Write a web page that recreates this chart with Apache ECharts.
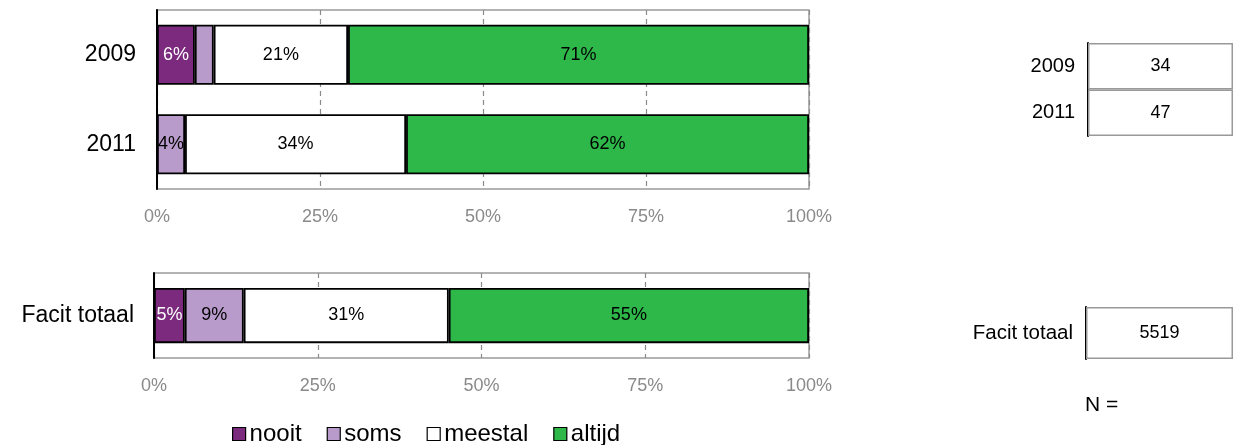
<!DOCTYPE html>
<html>
<head>
<meta charset="utf-8">
<script src="https://cdn.jsdelivr.net/npm/echarts@6/dist/echarts.min.js"></script>
<style>
html,body{margin:0;padding:0;background:#fff;}
#c{width:1233px;height:445px;}
</style>
</head>
<body>
<div id="c"></div>
<script>
// ---- data ----
const yearCats = ['2009', '2011'];
const totalCats = ['Facit totaal'];
const seriesNames = ['nooit', 'soms', 'meestal', 'altijd'];
const nooitYears = [5.8, 0];
const somsYears = [2.9, 4.3];
const meestalYears = [20.6, 33.9];
const altijdYears = [70.7, 61.8];
const nooitTotal = [4.7];
const somsTotal = [9.0];
const meestalTotal = [31.3];
const altijdTotal = [55.0];
const nYears = [34, 47];
const nTotal = [5519];
const xTicks = [0, 25, 50, 75, 100];

const colors = ['#7B2A7E', '#B89BCB', '#FFFFFF', '#2EB84A'];
const labelColors = ['#FFFFFF', '#000000', '#000000', '#000000'];
const FONT = 'Liberation Sans, Arial, Helvetica, sans-serif';

const chart = echarts.init(document.getElementById('c'), null, {renderer: 'canvas'});

function valueAxis(gridIndex) {
  return {
    type: 'value', gridIndex, min: xTicks[0], max: xTicks[xTicks.length - 1],
    interval: xTicks[1] - xTicks[0],
    axisLine: {show: false}, axisTick: {show: false},
    axisLabel: {formatter: '{value}%', color: '#8a8a8a', fontSize: 18, fontFamily: FONT, margin: 19},
    splitLine: {show: true, lineStyle: {color: '#8a8a8a', type: [5, 4], width: 1.2}}
  };
}
function catAxis(gridIndex, data, margin, fontSize) {
  return {
    type: 'category', gridIndex, data, inverse: true,
    axisLine: {show: true, lineStyle: {color: '#000', width: 2}},
    axisTick: {show: false},
    axisLabel: {color: '#000', fontSize, fontFamily: FONT, margin}
  };
}
function barSeries(gridIdx, idx, data, barWidth) {
  return {
    type: 'bar', name: seriesNames[idx], stack: 'g' + gridIdx,
    xAxisIndex: gridIdx, yAxisIndex: gridIdx, data, barWidth,
    itemStyle: {color: colors[idx], borderColor: '#000', borderWidth: 1.8},
    label: {
      show: true, position: 'inside', color: labelColors[idx], fontSize: 18, fontFamily: FONT,
      formatter: p => Math.round(p.value) >= 4 ? Math.round(p.value) + '%' : ''
    },
    emphasis: {disabled: true}, animation: false
  };
}
function cellSeries(gridIdx, nArr) {
  return {
    type: 'bar', xAxisIndex: gridIdx, yAxisIndex: gridIdx,
    data: nArr.map(() => 1), barWidth: '100%',
    itemStyle: {color: '#fff', borderColor: '#999', borderWidth: 1.5},
    label: {show: true, position: 'inside', color: '#000', fontSize: 18, fontFamily: FONT,
      formatter: p => String(nArr[p.dataIndex])},
    emphasis: {disabled: true}, animation: false, silent: true
  };
}

const years = [nooitYears, somsYears, meestalYears, altijdYears];
const totals = [nooitTotal, somsTotal, meestalTotal, altijdTotal];

const option = {
  animation: false,
  textStyle: {fontFamily: FONT},
  grid: [
    {left: 157, top: 10, width: 652, height: 179, show: true, borderColor: '#9a9a9a', borderWidth: 1.5, backgroundColor: 'transparent'},
    {left: 154, top: 273, width: 655, height: 85, show: true, borderColor: '#9a9a9a', borderWidth: 1.5, backgroundColor: 'transparent'},
    {left: 1088, top: 43, width: 146, height: 93},
    {left: 1086, top: 307, width: 148, height: 52}
  ],
  xAxis: [
    valueAxis(0), valueAxis(1),
    {type: 'value', gridIndex: 2, min: 0, max: 1, show: false},
    {type: 'value', gridIndex: 3, min: 0, max: 1, show: false}
  ],
  yAxis: [
    catAxis(0, yearCats, 21, 23),
    catAxis(1, totalCats, 20, 23),
    catAxis(2, yearCats, 13, 20),
    catAxis(3, totalCats, 13, 20.5)
  ],
  legend: {
    data: seriesNames, left: 232, top: 422, padding: 0, itemWidth: 13, itemHeight: 13, itemGap: 25,
    icon: 'rect', textStyle: {fontSize: 24, color: '#000', fontFamily: FONT, padding: [0, 0, 0, -1]},
    itemStyle: {borderColor: '#000', borderWidth: 1.2},
    selectedMode: false
  },
  graphic: [
    {type: 'text', left: 1085, top: 395, style: {text: 'N =', fontSize: 21, fill: '#000', fontFamily: FONT}}
  ],
  series: [
    ...years.map((d, i) => barSeries(0, i, d, '67%')),
    ...totals.map((d, i) => barSeries(1, i, d, '65%')),
    cellSeries(2, nYears),
    cellSeries(3, nTotal)
  ]
};
chart.setOption(option);
</script>
</body>
</html>
